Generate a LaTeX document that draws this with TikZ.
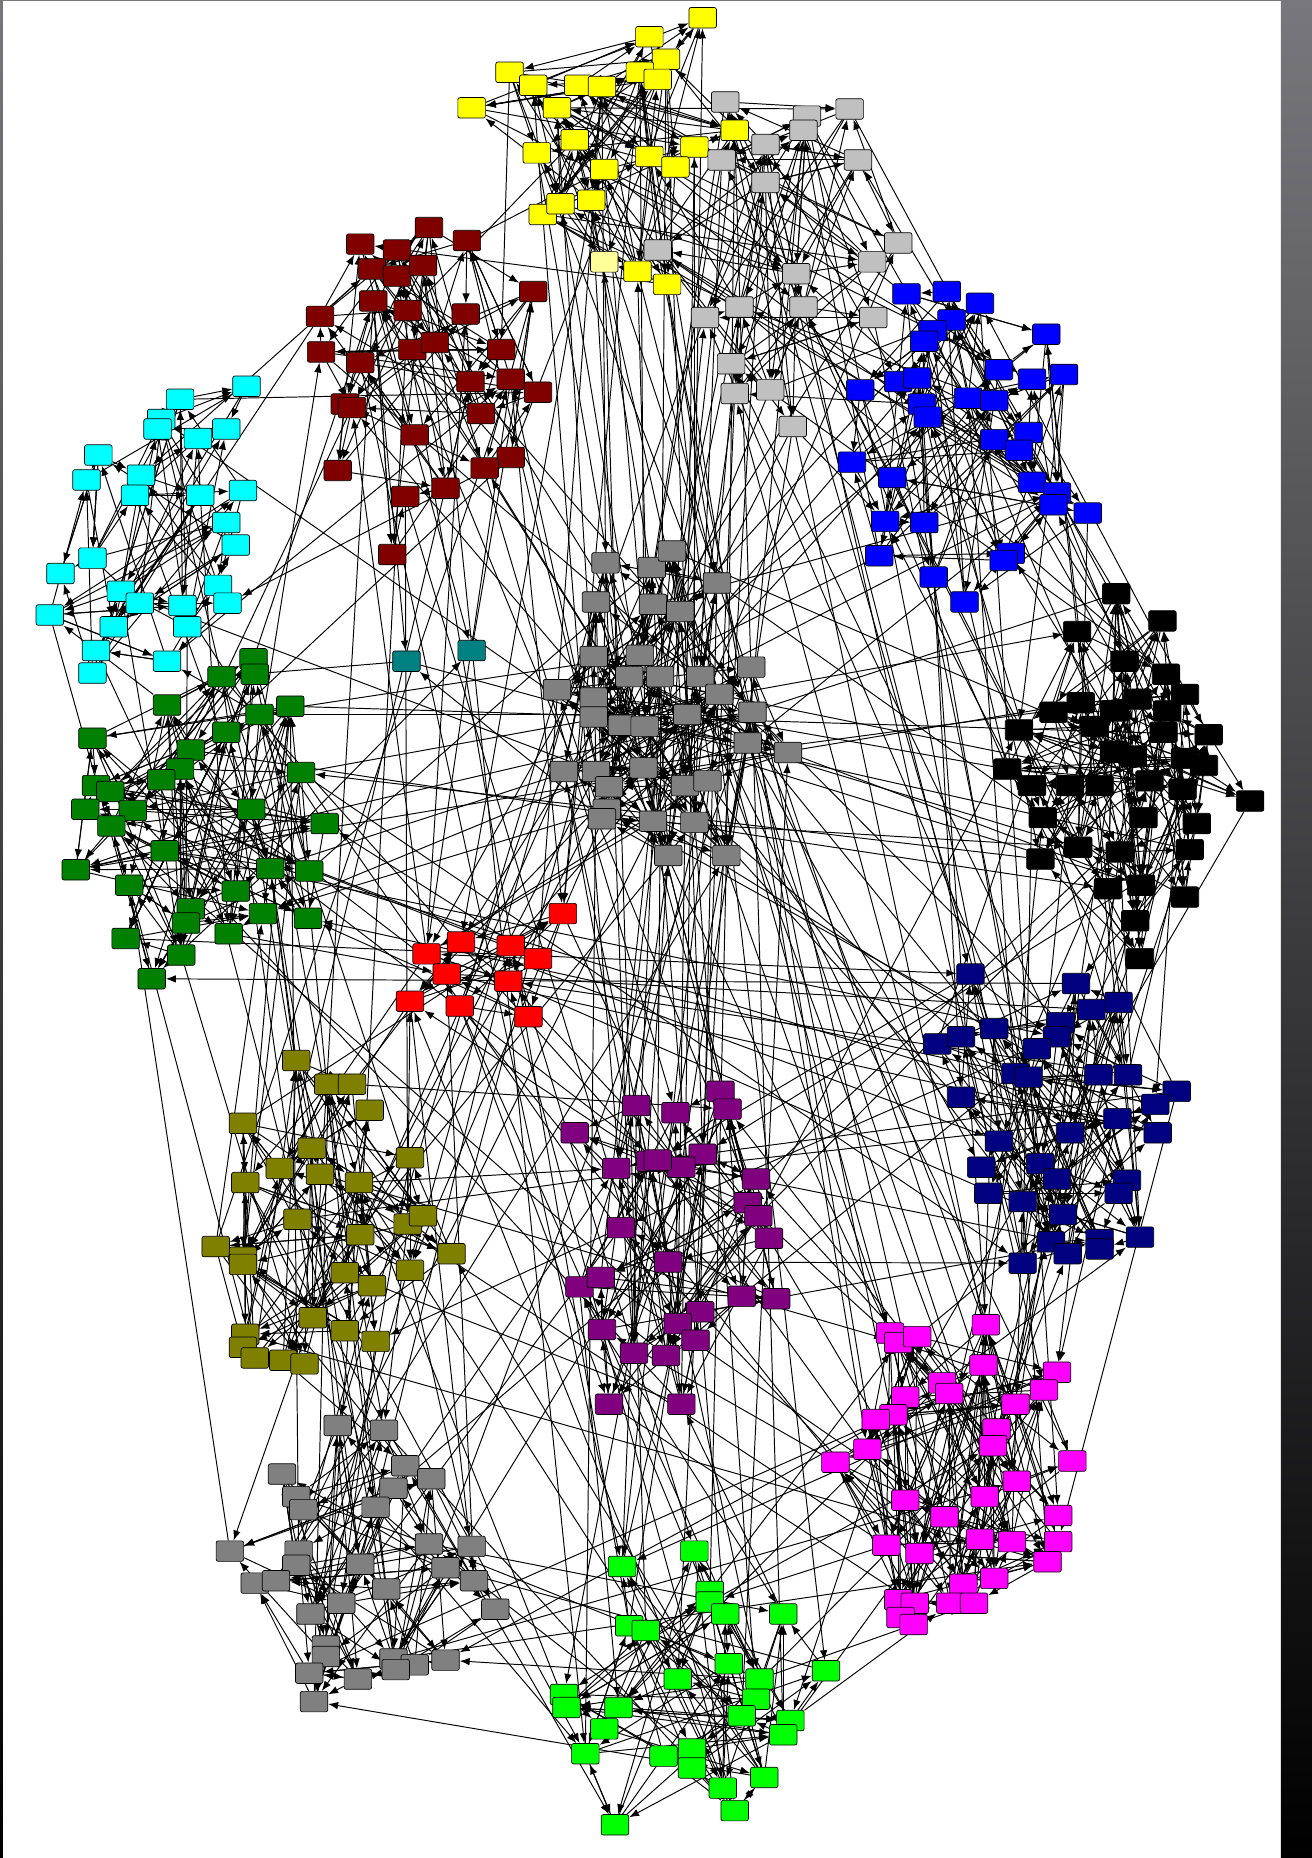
\documentclass[tikz,border=0pt]{standalone}
\usepackage{xcolor}
\usepackage{tikz}
\usetikzlibrary{arrows.meta}

\definecolor{frameTop}{HTML}{77777D}
\definecolor{cYel}{HTML}{FFFF00}
\definecolor{cYelPale}{HTML}{FFFF99}
\definecolor{cSil}{HTML}{C0C0C0}
\definecolor{cBlu}{HTML}{0000FF}
\definecolor{cBlk}{HTML}{000000}
\definecolor{cGry}{HTML}{808080}
\definecolor{cTea}{HTML}{008080}
\definecolor{cMar}{HTML}{800000}
\definecolor{cCya}{HTML}{00FFFF}
\definecolor{cGrn}{HTML}{008000}
\definecolor{cRed}{HTML}{FF0000}
\definecolor{cOlv}{HTML}{808000}
\definecolor{cPur}{HTML}{800080}
\definecolor{cNav}{HTML}{000080}
\definecolor{cMag}{HTML}{FF00FF}
\definecolor{cLim}{HTML}{00FF00}

\pgfdeclarelayer{bg}
\pgfdeclarelayer{links}
\pgfsetlayers{bg,links,main}

\begin{document}
\begin{tikzpicture}[
  x=0.0237cm, y=-0.0237cm,
  cell/.style={draw=black, line width=0.4pt, rounded corners=1.2pt,
               minimum width=0.55cm, minimum height=0.41cm, inner sep=0pt},
  link/.style={-{Latex[length=2.0mm, width=1.5mm]}, draw=black, line width=0.55pt},
]
%% Coordinates (pixels, y downwards).
\useasboundingbox (0,0) rectangle (1107,1568);
\begin{pgfonlayer}{bg}
  \fill[white] (0,0) rectangle (1081,1568);
  \shade[top color=frameTop, bottom color=black] (1081,0) rectangle (1107,1568);
  \shade[top color=frameTop, bottom color=black] (0,0) rectangle (2.5,1568);
  \fill[frameTop] (0,0) rectangle (1081,1.2);
\end{pgfonlayer}

%% ---- yellow / silver (top) ----
\foreach \x/\y [count=\i] in {593/15, 548/31, 562/50, 540/61, 555/67, 430/61, 450/72, 488/72,
    508/73, 398/91, 470/91, 620/110, 485/118, 453/129, 586/124, 548/132, 570/141, 510/143,
    458/181, 473/172, 499/169, 538/229, 563/240}
  \node[cell, fill=cYel] (yel\i) at (\x,\y) {};
\node[cell, fill=cYelPale] (yel24) at (510,221) {};
\foreach \x/\y [count=\i] in {612/86, 681/98, 717/92, 678/110, 646/122, 609/135, 724/135,
    646/154, 555/211, 758/205, 736/221, 672/231, 624/259, 678/259, 595/268, 737/268,
    617/307, 620/332, 650/329, 669/360}
  \node[cell, fill=cSil] (sil\i) at (\x,\y) {};

%% ---- blue / black (right) ----
\foreach \x/\y [count=\i] in {765/248, 799/246, 827/256, 803/270, 787/279, 780/288, 883/282,
    843/312, 871/320, 898/316, 726/329, 758/322, 774/319, 778/341, 783/352, 817/336, 839/338,
    868/365, 839/371, 860/380, 719/390, 753/403, 871/407, 892/416, 889/426, 918/433, 747/440,
    780/441, 742/469, 853/467, 847/473, 788/487, 814/508}
  \node[cell, fill=cBlu] (blu\i) at (\x,\y) {};
\foreach \x/\y [count=\i] in {942/501, 981/524, 909/533, 949/558, 984/569, 1000/586, 912/593,
    889/601, 924/613, 982/618, 860/616, 940/634, 956/638, 1016/646, 850/649, 1055/676, 871/663,
    903/663, 928/663, 970/659, 998/666, 878/725, 910/715, 945/719, 1004/717, 935/750, 963/747,
    1000/757, 958/777, 962/809, 960/590, 985/600, 1020/620, 940/600, 1000/640, 965/690,
    880/690, 1010/695}
  \node[cell, fill=cBlk] (blk\i) at (\x,\y) {};

%% ---- grey core and the two teal ones ----
\foreach \x/\y [count=\i] in {511/475, 550/479, 567/465, 605/492, 503/508, 551/510, 574/516,
    501/554, 540/553, 531/571, 557/571, 591/571, 634/563, 470/582, 501/589, 501/605, 525/612,
    544/613, 580/603, 607/586, 635/601, 631/627, 665/635, 476/651, 503/651, 514/664, 512/683,
    543/648, 578/663, 597/659, 508/691, 551/693, 586/694, 564/722, 613/722}
  \node[cell, fill=cGry] (gry\i) at (\x,\y) {};
\foreach \x/\y [count=\i] in {343/558, 398/549}
  \node[cell, fill=cTea] (tea\i) at (\x,\y) {};

%% ---- maroon / cyan / green (left) ----
\foreach \x/\y [count=\i] in {362/192, 304/206, 335/211, 394/203, 314/227, 335/233, 357/224,
    315/254, 344/262, 393/265, 450/246, 270/267, 271/297, 304/306, 348/295, 367/289, 423/295,
    397/322, 431/320, 454/331, 291/341, 297/344, 406/349, 350/367, 431/386, 409/395, 285/397,
    376/412, 342/419, 331/468}
  \node[cell, fill=cMar] (mar\i) at (\x,\y) {};
\foreach \x/\y [count=\i] in {208/326, 152/337, 136/354, 133/362, 167/370, 191/362, 83/384,
    73/405, 119/401, 114/418, 169/418, 205/414, 191/441, 199/460, 78/471, 51/484, 102/499,
    118/509, 184/494, 192/509, 154/511, 42/519, 96/529, 158/529, 81/549, 78/568, 141/558}
  \node[cell, fill=cCya] (cya\i) at (\x,\y) {};
\foreach \x/\y [count=\i] in {214/556, 187/571, 215/569, 141/595, 245/596, 219/603, 191/618,
    78/623, 161/633, 152/649, 254/652, 136/658, 81/663, 93/668, 72/683, 112/684, 212/683,
    274/695, 94/697, 139/718, 64/734, 228/733, 261/735, 109/747, 199/752, 161/767, 222/771,
    260/775, 157/779, 193/788, 106/792, 153/806, 128/826}
  \node[cell, fill=cGrn] (grn\i) at (\x,\y) {};

%% ---- red / olive / purple (middle) ----
\foreach \x/\y [count=\i] in {475/771, 389/795, 360/805, 431/798, 454/809, 377/822, 429/828,
    346/845, 388/849, 446/858}
  \node[cell, fill=cRed] (red\i) at (\x,\y) {};
\foreach \x/\y [count=\i] in {250/895, 277/915, 297/915, 312/937, 205/948, 263/969, 346/977,
    207/998, 236/986, 270/991, 303/998, 251/1029, 304/1042, 344/1033, 357/1026, 182/1052,
    205/1061, 205/1067, 381/1058, 291/1074, 314/1085, 346/1072, 264/1112, 291/1123, 317/1132,
    207/1126, 205/1137, 215/1146, 239/1148, 257/1151}
  \node[cell, fill=cOlv] (olv\i) at (\x,\y) {};
\foreach \x/\y [count=\i] in {537/933, 485/956, 520/986, 549/980, 524/1036, 489/1086, 507/1078,
    508/1122, 535/1142, 514/1185, 608/921, 614/936, 570/939, 593/974, 575/985, 555/979,
    638/995, 631/1015, 640/1026, 649/1045, 564/1065, 626/1094, 655/1096, 591/1107, 572/1117,
    587/1131, 562/1144, 575/1185}
  \node[cell, fill=cPur] (pur\i) at (\x,\y) {};

%% ---- navy / magenta (lower right) ----
\foreach \x/\y [count=\i] in {819/822, 908/830, 944/846, 921/852, 895/863, 892/875, 839/868,
    875/885, 791/881, 811/875, 857/906, 868/909, 927/907, 952/907, 993/921, 975/932, 811/926,
    943/944, 903/956, 977/956, 843/963, 828/985, 878/982, 892/995, 951/996, 834/1007, 863/1014,
    944/1007, 897/1025, 887/1048, 901/1058, 928/1046, 928/1054, 962/1044, 863/1066}
  \node[cell, fill=cNav] (nav\i) at (\x,\y) {};
\foreach \x/\y [count=\i] in {832/1118, 751/1125, 758/1133, 774/1128, 830/1152, 892/1158,
    795/1167, 801/1176, 881/1173, 764/1179, 857/1185, 754/1194, 739/1198, 841/1206, 838/1220,
    732/1223, 705/1234, 905/1233, 858/1250, 764/1266, 831/1263, 797/1280, 893/1279, 827/1299,
    854/1301, 893/1301, 748/1304, 776/1311, 884/1318, 839/1332, 813/1337, 758/1350, 772/1353,
    802/1353, 822/1353, 760/1365, 771/1371}
  \node[cell, fill=cMag] (mag\i) at (\x,\y) {};

%% ---- dark grey / lime (bottom) ----
\foreach \x/\y [count=\i] in {285/1203, 324/1207, 342/1237, 364/1248, 238/1244, 332/1256,
    250/1263, 256/1274, 317/1272, 362/1303, 398/1305, 194/1309, 252/1309, 250/1321, 304/1320,
    376/1323, 215/1336, 233/1334, 400/1334, 326/1341, 288/1353, 262/1362, 418/1358, 275/1389,
    275/1398, 332/1400, 350/1405, 376/1401, 261/1412, 302/1417, 334/1409, 265/1436}
  \node[cell, fill=cGry] (dgy\i) at (\x,\y) {};
\foreach \x/\y [count=\i] in {525/1322, 531/1372, 545/1376, 476/1430, 478/1441, 522/1441,
    510/1459, 494/1480, 560/1482, 519/1540, 586/1309, 599/1343, 599/1352, 612/1362, 661/1362,
    615/1404, 697/1410, 572/1417, 641/1417, 638/1434, 626/1448, 667/1452, 661/1464, 584/1476,
    584/1492, 645/1500, 610/1509, 620/1528}
  \node[cell, fill=cLim] (lim\i) at (\x,\y) {};

%% Links go on a layer under the boxes; the wiring is seeded, not traced.
\begin{pgfonlayer}{links}
  \pgfmathsetseed{42}
  %% ---- inside each group: group / size / links per box ----
  \foreach \grp/\num/\outs in {yel/24/4, sil/20/3, blu/33/3, blk/38/4, gry/35/4, mar/30/3,
      cya/27/3, grn/33/4, red/10/2, olv/30/3, pur/28/3, nav/35/3, mag/37/4, dgy/32/3, lim/28/3} {
    \foreach \i in {1,...,\num} {
      \foreach \k in {1,...,\outs} {
        \pgfmathrandominteger{\ia}{1}{\num}
        \ifnum\ia=\i\relax \pgfmathtruncatemacro\ia{mod(\i,\num)+1}\fi
        \draw[link] (\grp\ia) -- (\grp\i);
      }
    }
  }
  %% ---- between groups: group a / size / group b / size / links ----
  \foreach \ga/\na/\gb/\nb/\cnt in {
      yel/24/sil/20/16, yel/24/gry/35/14, yel/24/pur/28/5, yel/24/lim/28/4, yel/24/mar/30/5,
      yel/24/blu/33/4, yel/24/red/10/3, yel/24/mag/37/3,
      sil/20/blu/33/10, sil/20/blk/38/8, sil/20/gry/35/10, sil/20/nav/35/6, sil/20/mag/37/4,
      sil/20/pur/28/4, sil/20/red/10/3,
      mar/30/cya/27/5, mar/30/gry/35/8, mar/30/tea/2/3, mar/30/red/10/4, mar/30/olv/30/5,
      mar/30/grn/33/4, mar/30/pur/28/3, mar/30/lim/28/3,
      cya/27/grn/33/10, cya/27/gry/35/2,
      grn/33/red/10/6, grn/33/gry/35/6, grn/33/nav/35/6, grn/33/blk/38/6, grn/33/olv/30/10,
      grn/33/dgy/32/6, grn/33/pur/28/5, grn/33/tea/2/2,
      gry/35/blk/38/10, gry/35/blu/33/8, gry/35/nav/35/8, gry/35/pur/28/10, gry/35/lim/28/8,
      gry/35/mag/37/8, gry/35/red/10/6, gry/35/olv/30/6, gry/35/tea/2/2, gry/35/dgy/32/4,
      blu/33/blk/38/10, blu/33/nav/35/6, blu/33/mag/37/3,
      blk/38/nav/35/12, blk/38/mag/37/5, blk/38/pur/28/4,
      red/10/pur/28/6, red/10/olv/30/6, red/10/nav/35/5, red/10/lim/28/3, red/10/dgy/32/3,
      olv/30/dgy/32/14, olv/30/pur/28/5, olv/30/lim/28/5, olv/30/mag/37/3,
      pur/28/mag/37/10, pur/28/lim/28/8, pur/28/nav/35/8,
      nav/35/mag/37/12,
      dgy/32/lim/28/8, dgy/32/mag/37/4, dgy/32/pur/28/4,
      lim/28/mag/37/10} {
    \foreach \k in {1,...,\cnt} {
      \pgfmathrandominteger{\ia}{1}{\na}
      \pgfmathrandominteger{\ib}{1}{\nb}
      \ifodd\k\relax
        \draw[link] (\ga\ia) -- (\gb\ib);
      \else
        \draw[link] (\gb\ib) -- (\ga\ia);
      \fi
    }
  }
\end{pgfonlayer}
\end{tikzpicture}
\end{document}
